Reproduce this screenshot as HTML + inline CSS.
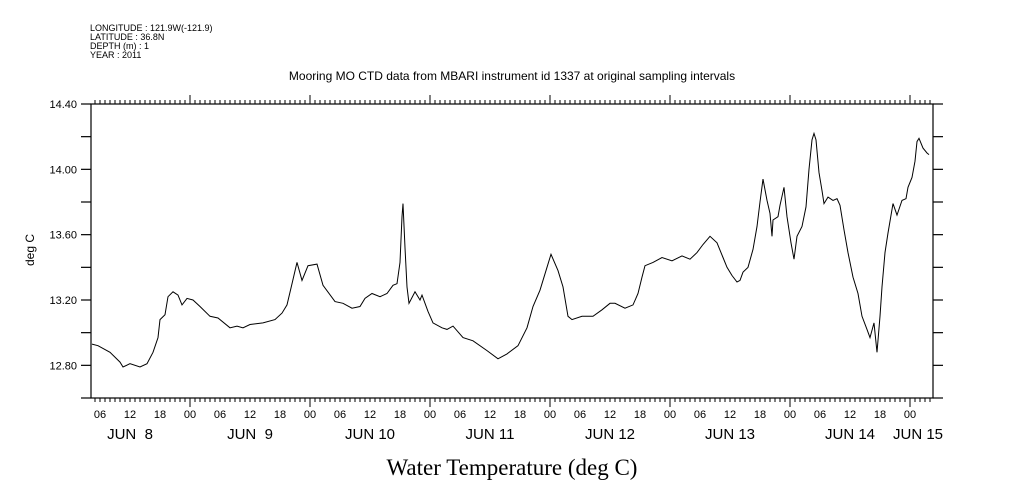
<!DOCTYPE html>
<html><head><meta charset="utf-8">
<style>
html,body{margin:0;padding:0;background:#fff;}
svg{display:block;}
text{font-family:"Liberation Sans",sans-serif;fill:#000;}
</style></head>
<body>
<svg id="chart" width="1009" height="504" viewBox="0 0 1009 504" xmlns="http://www.w3.org/2000/svg">
  <g font-size="9">
    <text x="90" y="31">LONGITUDE : 121.9W(-121.9)</text>
    <text x="90" y="40">LATITUDE : 36.8N</text>
    <text x="90" y="49">DEPTH (m) : 1</text>
    <text x="90" y="58">YEAR : 2011</text>
  </g>
  <text x="512" y="80" text-anchor="middle" font-size="12">Mooring MO CTD data from MBARI instrument id 1337 at original sampling intervals</text>
  <text x="512" y="475" text-anchor="middle" font-size="23" style="font-family:'Liberation Serif',serif">Water Temperature (deg C)</text>
  <text transform="translate(34,250) rotate(-90)" text-anchor="middle" font-size="12">deg C</text>
  <g id="axes"></g>
  <g id="series"></g>
</svg>
<script>
// hours since JUN 8 00:00, 2011
const times = [4.4,5.6,8,10,10.6,12,14,15.4,16.6,17.6,18,19,19.6,20.6,21.6,22.4,23.4,24.6,26,28,29.6,32,33.4,34.6,36,38.6,41,42.4,43.4,44.4,45.4,46.4,47.6,
49.4,50.6,53,54.6,56.4,58,59,60.4,62,63.4,64.6,65.4,66,66.4,66.6,67,67.4,67.8,69,70,70.4,71.6,72.6,74.4,75.4,76.6,78.6,80.6,83.4,85.6,87.4,89.6,91.4,92.6,94,95.4,96,
96.2,97.6,98.6,99.6,100.4,102.4,104.6,106.4,108,109,111,112.6,113.6,114.4,115,116.6,118.4,120.4,122.4,124,125.4,126.6,128,129.4,130.6,131.4,132.4,133.4,134,134.6,135.6,136.6,137.4,138,138.6,139.4,140,140.4,140.6,141.6,
142,142.8,143.4,144.2,144.8,145.4,146.4,147.2,147.8,148.4,148.8,149.2,149.8,150.4,150.8,151.6,152.6,153.4,154,154.8,155.6,156.6,157.6,158.4,159.4,160,160.8,161.4,162,162.4,163,163.6,164.6,165.4,166.4,167.2,167.6,168.4,169,169.4,169.8,170.6,171.4,171.8];
const temps = [12.93,12.92,12.88,12.82,12.79,12.81,12.79,12.81,12.88,12.97,13.08,13.11,13.22,13.25,13.23,13.17,13.21,13.20,13.16,13.10,13.09,13.03,13.04,13.03,13.05,13.06,13.08,13.12,13.17,13.30,13.43,13.32,13.41,
13.42,13.29,13.19,13.18,13.15,13.16,13.21,13.24,13.22,13.24,13.29,13.30,13.43,13.71,13.79,13.52,13.28,13.18,13.25,13.20,13.23,13.13,13.06,13.03,13.02,13.04,12.97,12.95,12.89,12.84,12.87,12.92,13.03,13.16,13.26,13.40,13.46,
13.48,13.38,13.28,13.10,13.08,13.10,13.10,13.14,13.18,13.18,13.15,13.17,13.24,13.34,13.41,13.43,13.46,13.44,13.47,13.45,13.49,13.54,13.59,13.55,13.46,13.40,13.35,13.31,13.32,13.37,13.40,13.51,13.65,13.80,13.94,13.81,13.73,13.59,13.69,13.71,
13.78,13.89,13.71,13.55,13.45,13.59,13.65,13.77,14.00,14.18,14.22,14.18,13.98,13.87,13.79,13.83,13.81,13.82,13.78,13.63,13.49,13.34,13.24,13.10,13.02,12.97,13.06,12.88,13.10,13.28,13.49,13.61,13.79,13.72,13.81,13.82,13.89,13.95,14.05,14.17,14.19,14.13,14.10,14.09];
const yTickValues = [12.6,12.8,13.0,13.2,13.4,13.6,13.8,14.0,14.2,14.4];
const yTickLabels = ["12.80","13.20","13.60","14.00","14.40"];
const hourLabels = ["00","06","12","18"];
const dayLabels = ["JUN  8","JUN  9","JUN 10","JUN 11","JUN 12","JUN 13","JUN 14","JUN 15"];

const NS="http://www.w3.org/2000/svg";
const L=91,R=933,T=104,B=398;
const tMin=4.2,tMax=172.6,vMin=12.6,vMax=14.4;
const xs=t=>L+(t-tMin)/(tMax-tMin)*(R-L);
const ys=v=>B-(v-vMin)/(vMax-vMin)*(B-T);
const axes=document.getElementById('axes');
function mk(tag,attrs,parent){const e=document.createElementNS(NS,tag);for(const k in attrs)e.setAttribute(k,attrs[k]);parent.appendChild(e);return e;}

const frame=mk('rect',{x:L,y:T,width:R-L,height:B-T,fill:'none',stroke:'#000','stroke-width':1.2},axes);



yTickValues.forEach(v=>{
  const y=ys(v);
  const tl=mk('line',{x1:L-10,x2:L,y1:y,y2:y,stroke:'#000','stroke-width':1.2},axes);
  
  
  const tr=mk('line',{x1:R,x2:R+10,y1:y,y2:y,stroke:'#000','stroke-width':1.2},axes);
  
  
});
yTickLabels.forEach(s=>{
  const t=mk('text',{x:L-14,y:ys(parseFloat(s))+4,'text-anchor':'end','font-size':11},axes);
  t.textContent=s;
  
  
});

for(let h=Math.ceil(tMin);h<=tMax;h++){
  const x=xs(h);
  const major=(h%24===0);
  const len=major?9:4;
  const a=mk('line',{x1:x,x2:x,y1:T-len,y2:T,stroke:'#000','stroke-width':1},axes);
  
  
  const b=mk('line',{x1:x,x2:x,y1:B,y2:B+len,stroke:'#000','stroke-width':1},axes);
  
  
  if(h%6===0){
    const t=mk('text',{x:x,y:B+20,'text-anchor':'middle','font-size':11},axes);
    t.textContent=hourLabels[(h%24)/6];
    
    
  }
}
dayLabels.forEach((s,i)=>{
  let x=xs(i*24+12);
  if(x>R-15)x=R-15;
  const t=mk('text',{x:x,y:B+41,'text-anchor':'middle','font-size':15},axes);
  t.textContent=s;
  t.style.whiteSpace='pre';
  
  
});

const d=times.map((t,i)=>(i?'L':'M')+xs(t).toFixed(1)+' '+ys(temps[i]).toFixed(1)).join(' ');
const p=mk('path',{d:d,fill:'none',stroke:'#000','stroke-width':1,'stroke-linejoin':'miter'},document.getElementById('series'));


</script>
</body></html>
